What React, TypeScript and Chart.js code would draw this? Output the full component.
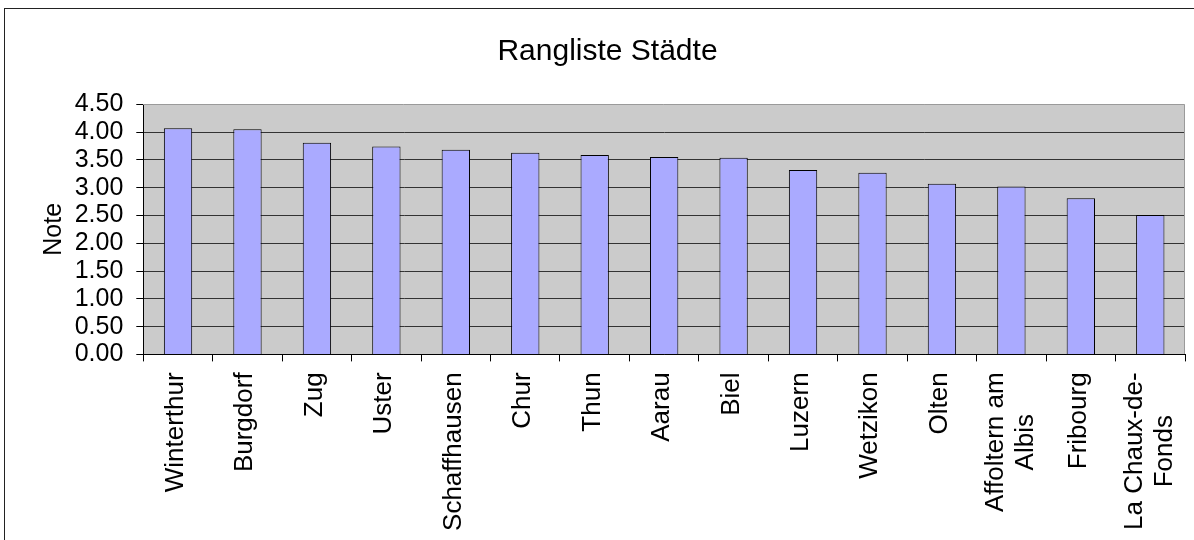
import React, { useEffect, useRef } from 'react';
import { Chart, registerables } from 'chart.js';

Chart.register(...registerables);

// ---- data ----
const cityLabels: string[][] = [
  ['Winterthur'],
  ['Burgdorf'],
  ['Zug'],
  ['Uster'],
  ['Schaffhausen'],
  ['Chur'],
  ['Thun'],
  ['Aarau'],
  ['Biel'],
  ['Luzern'],
  ['Wetzikon'],
  ['Olten'],
  ['Affoltern am', 'Albis'],
  ['Fribourg'],
  ['La Chaux-de-', 'Fonds'],
];
const noteValues: number[] = [4.07, 4.05, 3.81, 3.74, 3.68, 3.63, 3.59, 3.55, 3.54, 3.32, 3.27, 3.07, 3.02, 2.81, 2.51];
const yMin = 0;
const yMax = 4.5;
const yStep = 0.5;
const chartTitle = 'Rangliste Städte';
const yTitle = 'Note';

const FONT = '"Liberation Sans", Arial, Helvetica, sans-serif';
const TICK_LEN = 7;
const XLABEL_GAP = 11;
const XLABEL_SIZE = 26;
const XLABEL_LINE = 30;

const plotAreaPlugin = {
  id: 'plotArea',
  beforeDraw(chart: any) {
    const { ctx, chartArea: a } = chart;
    ctx.save();
    ctx.fillStyle = '#cbcbcb';
    ctx.fillRect(a.left, a.top, a.right - a.left, a.bottom - a.top);
    ctx.restore();
  },
  afterDraw(chart: any) {
    const { ctx, chartArea: a } = chart;
    ctx.save();
    ctx.strokeStyle = '#9a9a9a';
    ctx.lineWidth = 1;
    ctx.beginPath();
    const t = Math.round(a.top) + 0.5;
    const r = Math.round(a.right) - 0.5;
    ctx.moveTo(Math.round(a.left), t);
    ctx.lineTo(r, t);
    ctx.lineTo(r, Math.round(a.bottom));
    ctx.stroke();
    ctx.restore();
  },
};

const xLabelPlugin = {
  id: 'xLabels',
  afterDraw(chart: any) {
    const xs = chart.scales.x;
    const ctx = chart.ctx;
    const top = chart.chartArea.bottom + TICK_LEN + XLABEL_GAP;
    ctx.save();
    ctx.font = `${XLABEL_SIZE}px ${FONT}`;
    ctx.fillStyle = '#000';
    ctx.textBaseline = 'alphabetic';
    ctx.textAlign = 'center';
    cityLabels.forEach((lines, i) => {
      const x = xs.getPixelForValue(i);
      const w = Math.max(...lines.map((l) => ctx.measureText(l).width));
      const n = lines.length;
      const shift = 5 + (n - 1) * 2;
      ctx.save();
      ctx.translate(x, top);
      ctx.rotate(-Math.PI / 2);
      lines.forEach((line, k) => {
        ctx.fillText(line, -w / 2, shift + (k - (n - 1) / 2) * XLABEL_LINE);
      });
      ctx.restore();
    });
    ctx.restore();
  },
};

export default function App() {
  const canvasRef = useRef<HTMLCanvasElement | null>(null);

  useEffect(() => {
    if (!canvasRef.current) return;
    Chart.defaults.font.family = FONT;
    Chart.defaults.color = '#000';
    const chart = new Chart(canvasRef.current, {
      type: 'bar',
      data: {
        labels: cityLabels.map((l) => l.join(' ')),
        datasets: [
          {
            label: yTitle,
            data: noteValues,
            backgroundColor: '#aaaaff',
            borderColor: '#000000',
            borderWidth: 1,
            barPercentage: 0.408,
            categoryPercentage: 1,
          },
        ],
      },
      options: {
        animation: false,
        responsive: true,
        maintainAspectRatio: false,
        layout: { padding: { left: 30, right: 9, top: 10, bottom: 540 - 354.4 - TICK_LEN } },
        plugins: {
          legend: { display: false },
          tooltip: { enabled: false },
          title: {
            display: true,
            text: chartTitle,
            color: '#000',
            font: { size: 30, weight: 'normal', family: FONT },
            padding: { top: 24.0, bottom: 34.3 },
          },
        },
        scales: {
          x: {
            offset: true,
            grid: {
              display: true,
              offset: true,
              drawOnChartArea: false,
              drawTicks: true,
              tickLength: TICK_LEN,
              tickColor: '#000',
              color: '#000',
            },
            border: { display: true, color: '#000', width: 1 },
            ticks: { display: false, autoSkip: false },
          },
          y: {
            min: yMin,
            max: yMax,
            grid: {
              color: (c: any) => (c.tick && Math.abs(c.tick.value - yMax) < 1e-9 ? 'rgba(0,0,0,0)' : '#333333'),
              tickColor: '#000',
              tickLength: TICK_LEN,
              drawTicks: true,
            },
            border: { display: true, color: '#000', width: 1 },
            ticks: {
              stepSize: yStep,
              autoSkip: false,
              padding: 13,
              color: '#000',
              font: { size: 25, family: FONT },
              callback: (v: any) => Number(v).toFixed(2),
            },
            title: {
              display: true,
              text: yTitle,
              color: '#000',
              font: { size: 25, family: FONT },
              padding: { top: 9, bottom: -7.35 },
            },
          },
        },
      },
      plugins: [plotAreaPlugin, xLabelPlugin],
    });
    return () => chart.destroy();
  }, []);

  return (
    <div
      style={{
        position: 'fixed',
        left: 0,
        top: 0,
        width: 1194,
        height: 540,
        overflow: 'hidden',
        background: '#fff',
      }}
    >
      <div
        style={{
          position: 'absolute',
          left: 4,
          top: 8,
          width: 1400,
          height: 800,
          borderTop: '1px solid #222',
          borderLeft: '1px solid #222',
        }}
      />
      <div style={{ position: 'absolute', left: 0, top: 0, width: 1194, height: 540 }}>
        <canvas ref={canvasRef} />
      </div>
    </div>
  );
}
